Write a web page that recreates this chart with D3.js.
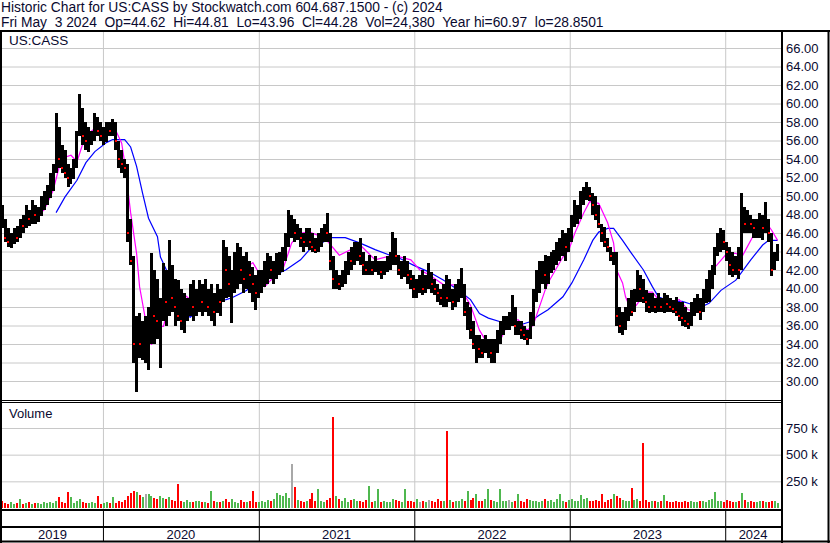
<!DOCTYPE html>
<html>
<head>
<meta charset="utf-8">
<script src="https://cdn.jsdelivr.net/npm/d3@7"></script>
<style>
  html, body { margin: 0; padding: 0; background: #fff; }
  svg { display: block; font-family: "Liberation Sans", Arial, sans-serif; }
  text { white-space: pre; }
</style>
</head>
<body>
<svg id="chart" width="830" height="543"></svg>
<script>
const ticker = "US:CASS";
const headerLines = [
  "Historic Chart for US:CASS by Stockwatch.com 604.687.1500 - (c) 2024",
  "Fri May  3 2024  Op=44.62  Hi=44.81  Lo=43.96  Cl=44.28  Vol=24,380  Year hi=60.97  lo=28.8501"
];
const years = [2019, 2020, 2021, 2022, 2023, 2024];
const priceTicks = [30, 32, 34, 36, 38, 40, 42, 44, 46, 48, 50, 52, 54, 56, 58, 60, 62, 64, 66];
const volumeTicks = [250, 500, 750]; // thousands

// weekly bars, first week ends Fri 2019-05-10
const firstWeek = new Date(2019, 4, 10);
const weekHigh = [
  49.0,47.5,46.5,46.0,46.5,46.8,47.5,48.0,49.0,48.5,
  49.6,49.0,48.8,50.0,50.5,51.2,52.5,53.5,59.0,57.5,
  55.5,55.0,53.5,53.0,54.0,57.0,61.0,59.5,58.0,57.5,
  57.0,59.0,58.5,58.0,57.5,58.0,58.0,58.3,58.0,56.0,
  55.0,54.0,53.5,47.5,43.5,37.0,37.3,36.5,37.0,38.0,
  43.8,42.0,41.0,39.0,42.8,42.0,45.2,42.5,41.0,40.9,
  40.0,39.5,39.0,40.5,40.9,40.0,40.9,40.5,41.0,40.0,
  40.5,39.5,40.5,40.0,45.2,44.5,43.5,42.0,44.0,44.9,
  44.5,43.5,44.0,43.0,42.3,41.5,42.0,42.0,43.0,43.8,
  43.5,43.0,43.8,44.0,44.5,46.0,48.5,48.0,47.5,47.0,
  46.5,46.0,46.5,46.5,46.0,45.5,46.0,46.5,47.0,48.2,
  46.0,43.5,42.0,41.5,42.0,43.0,44.0,44.5,45.0,45.0,
  45.5,44.0,43.0,43.6,43.0,43.5,43.0,43.0,43.0,43.5,
  44.0,46.1,45.5,43.6,43.0,43.5,43.0,42.0,41.5,41.0,
  41.5,42.0,41.5,42.8,41.8,41.0,40.5,40.0,40.5,41.5,
  41.0,40.0,40.5,41.0,42.2,40.5,38.5,38.0,36.5,35.0,
  35.0,34.5,35.0,34.5,34.5,34.5,35.5,36.5,37.0,37.0,
  37.5,39.3,38.0,36.5,36.5,36.0,35.5,37.5,40.0,42.0,
  43.0,43.0,43.6,43.5,44.0,44.2,45.0,45.5,46.3,46.0,
  46.5,48.0,49.6,49.0,50.5,51.0,51.5,51.0,50.3,50.0,
  49.0,47.0,46.7,45.5,44.5,44.0,44.0,38.0,37.5,38.0,
  39.0,39.8,40.0,42.0,41.5,41.0,39.8,39.5,39.5,39.0,
  39.5,39.0,39.5,39.3,39.0,38.8,39.1,38.5,38.5,38.0,
  37.5,38.5,39.0,39.4,39.0,40.0,41.0,42.0,42.5,44.5,
  46.0,46.5,46.3,45.0,44.5,44.0,43.5,44.5,50.3,48.8,
  48.5,48.0,47.5,47.5,48.2,48.0,49.3,47.5,46.0,44.0,
  44.8
];
const weekLow = [
  46.5,45.0,44.5,44.4,44.8,45.0,45.5,46.0,46.5,46.8,
  47.0,47.0,47.2,47.8,48.5,49.0,49.8,50.5,52.5,53.0,
  52.5,52.0,51.0,51.3,51.8,53.0,56.5,55.5,55.0,54.8,
  55.5,56.0,56.5,56.0,55.5,55.8,56.5,56.5,55.0,53.0,
  52.5,52.0,45.0,42.5,32.0,28.85,32.5,32.3,32.0,31.2,
  34.0,34.0,34.5,31.4,36.5,36.0,37.0,37.5,36.0,36.5,
  35.5,35.2,36.5,37.0,36.5,37.0,37.5,37.0,37.5,37.0,
  36.5,36.0,37.4,37.0,38.5,39.0,39.1,36.3,39.5,40.0,
  40.5,39.5,40.0,39.5,38.5,37.7,39.0,39.5,40.2,40.5,
  41.0,40.5,41.0,41.5,41.8,43.0,44.5,45.5,45.0,45.2,
  44.5,44.0,44.5,44.2,44.0,43.8,44.0,44.5,45.0,45.0,
  42.0,40.0,40.0,39.8,40.2,40.5,41.5,42.0,42.5,43.0,
  42.5,41.5,41.5,41.5,41.5,41.8,41.5,41.0,41.5,41.8,
  42.0,42.5,42.5,41.5,41.0,41.2,40.5,40.0,39.0,39.0,
  39.5,39.3,39.5,40.0,39.5,39.3,38.5,38.2,38.0,38.0,
  38.5,37.7,38.0,38.5,39.0,37.0,35.5,34.5,33.5,32.0,
  32.5,32.5,33.0,32.5,32.0,32.0,33.0,34.0,35.0,35.5,
  35.5,36.0,35.0,35.0,34.5,34.4,33.9,34.5,36.0,38.5,
  39.5,40.5,40.0,40.5,41.7,42.0,42.5,43.0,43.5,43.0,
  44.0,45.0,46.7,47.0,47.5,49.0,49.6,49.5,48.0,47.4,
  46.5,45.0,44.5,44.0,43.0,42.5,36.0,35.2,35.0,35.5,
  36.5,37.0,37.5,38.5,38.5,38.4,37.5,37.3,37.5,37.3,
  37.5,37.5,37.3,37.5,37.5,37.3,37.0,36.5,36.0,35.8,
  35.6,36.0,37.0,37.3,36.6,37.5,38.4,38.5,40.0,41.5,
  43.5,44.0,44.2,43.0,41.5,41.2,41.5,41.0,42.0,46.0,
  46.0,46.0,45.5,45.5,45.5,45.2,46.0,45.0,41.4,42.0,
  43.0
];
const weekClose = [
  47.0,45.5,45.0,45.5,46.0,45.5,47.0,46.8,48.0,47.5,
  48.5,48.0,48.5,49.5,50.0,50.5,52.0,53.0,55.0,54.0,
  53.0,52.5,52.0,52.8,53.5,56.5,58.0,56.5,56.0,56.2,
  56.8,57.5,57.0,56.5,57.0,57.5,57.0,57.8,56.0,54.0,
  53.5,53.0,46.0,43.0,34.0,35.5,34.0,35.0,35.0,36.0,
  38.0,37.0,36.5,37.5,40.0,38.5,40.0,39.0,38.0,37.0,
  36.5,37.5,38.0,39.5,38.0,38.5,39.5,38.5,39.5,38.0,
  39.0,37.5,39.5,38.5,43.0,42.0,40.5,41.5,42.5,43.5,
  42.0,41.0,42.5,41.5,40.5,39.5,40.5,41.0,42.0,42.5,
  42.0,42.5,43.0,43.5,44.0,45.5,47.0,47.0,46.0,46.5,
  45.5,45.0,45.5,45.0,44.5,44.2,45.5,46.0,46.5,46.0,
  43.0,41.0,41.5,40.5,41.5,42.5,43.5,43.0,44.0,44.5,
  43.5,42.5,42.0,43.0,42.0,42.5,42.8,41.8,42.5,43.0,
  43.5,45.0,43.5,42.0,42.5,43.0,41.5,41.0,40.0,40.5,
  40.5,40.0,41.0,41.0,40.5,40.0,39.5,39.0,39.5,39.0,
  40.0,38.5,39.5,40.0,40.5,37.5,38.0,35.5,34.0,34.5,
  33.5,33.0,34.0,34.2,33.0,33.5,34.5,35.5,36.0,36.5,
  36.5,38.0,36.0,36.2,35.5,35.0,34.5,36.5,39.0,41.0,
  41.5,42.0,41.5,42.5,43.0,43.5,44.0,44.5,45.5,44.5,
  45.5,47.0,48.0,48.3,49.5,50.0,51.0,50.0,49.0,48.0,
  47.0,46.0,45.0,44.5,43.5,43.8,37.0,36.0,36.5,37.0,
  38.0,37.5,39.0,40.5,40.0,39.0,38.5,38.0,38.5,38.0,
  38.5,38.0,38.5,38.3,38.0,37.8,37.5,37.0,36.8,36.5,
  36.2,37.5,38.0,38.5,37.5,39.0,40.0,41.0,41.5,43.5,
  45.0,45.5,45.0,44.0,42.5,42.0,42.5,42.0,47.5,47.0,
  47.5,47.0,46.5,46.8,47.0,46.5,47.0,46.0,42.0,43.0,
  44.28
];
// average daily volume shown per week, thousands
const weekVolume = [
  70,45,40,55,35,50,85,40,45,60,
  35,50,45,40,55,45,60,50,70,105,
  60,45,147,105,50,65,80,60,45,50,
  55,45,115,40,50,60,45,105,50,70,
  60,75,110,140,160,150,120,100,130,130,
  110,90,85,115,95,80,100,75,70,225,
  70,60,75,55,60,70,65,55,60,50,
  160,65,55,60,70,85,55,85,60,50,
  75,60,55,65,155,60,55,70,60,75,
  65,80,140,120,110,140,90,412,200,75,
  70,60,65,80,140,65,180,70,60,75,
  95,850,110,85,70,90,60,75,80,65,
  70,60,75,210,55,65,180,60,70,55,
  60,85,75,70,55,180,70,65,60,80,
  60,70,55,75,65,60,85,70,65,722,
  75,60,70,65,80,70,160,75,90,130,
  65,70,80,180,75,70,60,180,70,65,
  75,60,70,135,65,60,85,75,70,65,
  60,70,85,65,75,60,80,130,70,60,
  75,85,65,70,125,80,90,70,65,75,
  70,135,60,75,80,130,110,90,75,70,
  65,190,75,85,70,609,75,60,70,65,
  60,70,125,65,60,55,70,60,55,65,
  60,70,55,60,65,70,60,75,80,150,
  70,65,60,75,70,60,55,65,145,75,
  60,70,55,60,65,70,55,60,65,70,
  45
];
// moving averages: [week index, price]
const maShort = [
  [11,47.7],[14,48.5],[17,50.6],[19,53.1],[21,54.2],[23,54.4],[25,53.7],[27,55.7],
  [29,56.8],[31,57.3],[33,57.1],[37,57.3],[38,57.1],[40,55.7],[41,53.6],[43,48.2],
  [45,43.8],[46,40.2],[48,36.6],[50,33.9],[51,35.2],[52,35.9],[54,35.9],[56,38.4],
  [57,38.8],[59,39.6],[60,39.6],[63,38.8],[64,37.7],[66,38.2],[68,38.6],[72,38.6],
  [74,38.8],[76,39.8],[78,40.7],[80,41.8],[84,42.8],[86,41.7],[88,40.2],[90,40.9],
  [94,42.0],[97,44.9],[100,46.0],[103,46.1],[108,45.5],[113,43.6],[120,44.7],[125,43.1],
  [131,43.6],[137,43.1],[140,42.0],[143,41.5],[148,40.4],[153,40.4],[157,38.2],[160,35.5],
  [163,33.9],[167,34.4],[170,36.6],[173,36.6],[176,35.5],[178,36.0],[182,39.8],[183,40.6],
  [186,42.3],[188,43.4],[190,44.2],[192,46.0],[195,48.2],[197,49.4],[200,49.2],[203,47.1],
  [205,44.9],[206,42.0],[208,40.6],[209,39.1],[211,37.5],[214,38.8],[215,39.6],[218,39.6],
  [220,38.8],[223,38.4],[227,38.8],[230,37.7],[233,37.5],[235,38.4],[237,40.6],[239,42.3],
  [243,43.8],[246,43.8],[248,43.4],[251,45.2],[254,47.1],[256,47.2],[258,46.3],[260,45.2]
];
const maLong = [
  [18,48.2],[21,49.9],[25,51.7],[28,53.6],[31,54.8],[35,55.8],[37,56.1],[41,56.1],
  [43,55.3],[45,53.2],[47,50.3],[49,47.6],[52,45.6],[53,43.4],[55,42.0],[57,40.2],
  [59,38.8],[61,37.3],[63,36.9],[65,37.5],[67,38.2],[70,38.6],[75,38.8],[77,39.0],
  [82,39.8],[84,40.7],[87,40.7],[89,41.1],[93,41.7],[95,42.0],[100,43.1],[103,44.2],
  [106,44.7],[110,45.5],[115,45.5],[120,44.9],[125,44.2],[130,43.6],[133,43.3],[138,42.5],
  [143,41.8],[148,40.9],[153,39.8],[157,38.8],[160,37.3],[163,36.8],[167,36.4],[170,36.0],
  [173,36.0],[177,36.4],[180,37.1],[183,37.7],[188,39.1],[191,40.6],[195,43.1],[198,45.2],
  [200,46.1],[203,46.5],[205,46.5],[208,45.2],[211,43.8],[215,42.0],[218,40.2],[220,39.1],
  [224,38.6],[228,38.6],[230,38.4],[233,38.1],[235,38.1],[237,38.4],[241,39.8],[246,40.9],
  [251,43.1],[255,44.7],[257,45.2],[260,45.2]
];

const svg = d3.select("#chart"),
      W = +svg.attr("width"),
      H = +svg.attr("height");

const plotL = 2, plotR = 781, axisCol = 782;
const priceTop = 32, priceBot = 400;
const volTop = 403, volBot = 509;
const textCol = "#0a0a30";
const gridCol = "#c8c8c8";

const weekDate = i => d3.timeDay.offset(firstWeek, 7 * i);

const x = d3.scaleTime()
    .domain([new Date(2019, 4, 9), new Date(2024, 4, 11)])
    .range([plotL, plotR]);
const y = d3.scaleLinear().domain([30, 66]).range([381, 48]);
const yVol = d3.scaleLinear().domain([0, 750]).range([508, 428]);

const yearStarts = years.slice(1).map(yr => new Date(yr, 0, 1));

// header
svg.selectAll("text.head")
    .data(headerLines)
  .enter().append("text")
    .attr("class", "head")
    .attr("x", 1)
    .attr("y", (d, i) => 12.3 + i * 14.5)
    .attr("font-size", 13.8)
    .attr("fill", textCol)
    .text(d => d);

// price grid
svg.append("g")
    .attr("transform", `translate(${plotL},0)`)
    .call(d3.axisLeft(y).tickValues(priceTicks).tickSize(-(plotR - plotL)).tickFormat(""))
    .call(g => g.select(".domain").remove())
    .call(g => g.selectAll("line").attr("stroke", gridCol));

// volume grid
svg.append("g")
    .attr("transform", `translate(${plotL},0)`)
    .call(d3.axisLeft(yVol).tickValues(volumeTicks).tickSize(-(plotR - plotL)).tickFormat(""))
    .call(g => g.select(".domain").remove())
    .call(g => g.selectAll("line").attr("stroke", gridCol));

// vertical year grid in both panels
[[priceTop, priceBot], [volTop, volBot]].forEach(([t, b]) => {
  svg.append("g")
      .attr("transform", `translate(0,${t})`)
      .call(d3.axisBottom(x).tickValues(yearStarts).tickSize(b - t).tickFormat(""))
      .call(g => g.select(".domain").remove())
      .call(g => g.selectAll("line").attr("stroke", gridCol));
});

// moving averages
const maLine = d3.line()
    .x(d => x(weekDate(d[0])))
    .y(d => y(d[1]));

svg.append("path").datum(maLong)
    .attr("d", maLine)
    .attr("fill", "none")
    .attr("stroke", "#0000ff")
    .attr("stroke-width", 1.2);

svg.append("path").datum(maShort)
    .attr("d", maLine)
    .attr("fill", "none")
    .attr("stroke", "#ff00ff")
    .attr("stroke-width", 1.2);

// price bars
svg.append("g")
    .attr("shape-rendering", "crispEdges")
  .selectAll("line")
    .data(weekHigh)
  .enter().append("line")
    .attr("x1", (d, i) => x(weekDate(i)))
    .attr("x2", (d, i) => x(weekDate(i)))
    .attr("y1", d => y(d))
    .attr("y2", (d, i) => y(weekLow[i]))
    .attr("stroke", "#000")
    .attr("stroke-width", 3);

// close marks on down weeks
svg.append("g")
    .attr("shape-rendering", "crispEdges")
  .selectAll("rect")
    .data(weekClose.map((c, i) => ({c, i})).filter(d => d.i > 0 && d.c < weekClose[d.i - 1]))
  .enter().append("rect")
    .attr("x", d => x(weekDate(d.i)) - 1)
    .attr("y", d => y(d.c) - 1)
    .attr("width", 2)
    .attr("height", 2)
    .attr("fill", "#ff0000");

// volume bars
const volColour = i => {
  if (i === 0) return "#ff0000";
  const c = weekClose[i], p = weekClose[i - 1];
  return c > p ? "#4fb84f" : c < p ? "#ff0000" : "#a8a8a8";
};
svg.append("g")
    .attr("shape-rendering", "crispEdges")
  .selectAll("rect")
    .data(weekVolume)
  .enter().append("rect")
    .attr("x", (d, i) => x(weekDate(i)) - 1)
    .attr("y", d => yVol(d))
    .attr("width", 2)
    .attr("height", d => yVol(0) - yVol(d))
    .attr("fill", (d, i) => volColour(i));

// panel titles
svg.append("text").attr("x", 9).attr("y", 45).attr("font-size", 13.5)
    .attr("fill", textCol).text(ticker);
svg.append("text").attr("x", 9).attr("y", 418).attr("font-size", 13)
    .attr("fill", textCol).text("Volume");

// right-hand labels
svg.append("g")
    .attr("transform", `translate(${axisCol + 1},0)`)
    .call(d3.axisRight(y).tickValues(priceTicks).tickSize(0).tickPadding(3).tickFormat(d3.format(".2f")))
    .call(g => g.select(".domain").remove())
    .call(g => g.selectAll("text").attr("font-size", 13).attr("font-family", null).attr("fill", textCol));

svg.append("g")
    .attr("transform", `translate(${axisCol + 1},0)`)
    .call(d3.axisRight(yVol).tickValues(volumeTicks).tickSize(0).tickPadding(3).tickFormat(d => d + " k"))
    .call(g => g.select(".domain").remove())
    .call(g => g.selectAll("text").attr("font-size", 13).attr("font-family", null).attr("fill", textCol));

// year strip
svg.append("g")
    .attr("transform", `translate(0,${volBot + 1})`)
    .call(d3.axisBottom(x).tickValues(yearStarts).tickSize(32).tickFormat(""))
    .call(g => g.select(".domain").remove())
    .call(g => g.selectAll("line").attr("stroke", "#000"));

const bounds = [plotL, ...yearStarts.map(x), plotR];
svg.selectAll("text.year")
    .data(years)
  .enter().append("text")
    .attr("class", "year")
    .attr("x", (d, i) => (bounds[i] + bounds[i + 1]) / 2)
    .attr("y", 539)
    .attr("text-anchor", "middle")
    .attr("font-size", 13)
    .attr("fill", textCol)
    .text(d => d);

// frame lines
const frame = svg.append("g").attr("stroke", "#000").attr("fill", "none");
frame.append("line").attr("x1", 0).attr("x2", W).attr("y1", 31).attr("y2", 31).attr("stroke-width", 2);
frame.append("line").attr("x1", 1).attr("x2", 1).attr("y1", 30).attr("y2", 543).attr("stroke-width", 2);
frame.append("line").attr("x1", 828.5).attr("x2", 828.5).attr("y1", 30).attr("y2", 543).attr("stroke-width", 2);
frame.append("line").attr("x1", axisCol).attr("x2", axisCol).attr("y1", 30).attr("y2", 543).attr("stroke-width", 2);
frame.append("line").attr("x1", 0).attr("x2", axisCol).attr("y1", 400.5).attr("y2", 400.5);
frame.append("line").attr("x1", 0).attr("x2", axisCol).attr("y1", 402.5).attr("y2", 402.5);
frame.append("line").attr("x1", 0).attr("x2", axisCol).attr("y1", 510).attr("y2", 510).attr("stroke-width", 2);
frame.append("line").attr("x1", 0).attr("x2", axisCol).attr("y1", 527).attr("y2", 527).attr("stroke-width", 2);
frame.append("line").attr("x1", 0).attr("x2", W).attr("y1", 541.5).attr("y2", 541.5).attr("stroke-width", 2);
</script>
</body>
</html>
